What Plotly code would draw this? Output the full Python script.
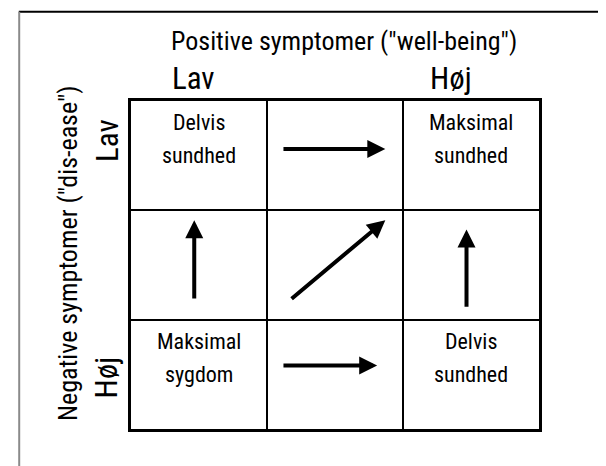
import plotly.graph_objects as go

FONT = "Roboto Condensed, Liberation Sans Narrow, Arial Narrow, Liberation Sans"

# 3x3 grid, columns = positive symptoms (Lav -> Høj), rows = negative symptoms (Lav -> Høj)
col_labels = ["Lav", "Høj"]
row_labels = ["Lav", "Høj"]
x_title = "Positive symptomer (″well-being″)"
y_title = "Negative symptomer (″dis-ease″)"

# cell texts: (column, row, line1, line2)
cell_col = [0, 2, 0, 2]
cell_row = [0, 0, 2, 2]
cell_line1 = ["Delvis", "Maksimal", "Maksimal", "Delvis"]
cell_line2 = ["sundhed", "sundhed", "sygdom", "sundhed"]

# arrows in grid units (start -> end)
arrow_x0 = [1.11, 0.465, 1.17, 2.467, 1.11]
arrow_y0 = [0.44, 1.82, 1.82, 1.895, 2.42]
arrow_x1 = [1.87, 0.465, 1.87, 2.467, 1.81]
arrow_y1 = [0.44, 1.09, 1.09, 1.175, 2.42]

fig = go.Figure()
fig.add_trace(go.Scatter(x=[0, 3], y=[0, 3], mode="markers",
                         marker=dict(opacity=0), hoverinfo="skip", showlegend=False))

annotations = []
for c, r, l1, l2 in zip(cell_col, cell_row, cell_line1, cell_line2):
    annotations.append(dict(x=c + 0.5, y=r + 0.2, xref="x", yref="y", text=l1,
                            xanchor="center", yanchor="middle", showarrow=False,
                            font=dict(family=FONT, size=22, color="black")))
    annotations.append(dict(x=c + 0.5, y=r + 0.5, xref="x", yref="y", text=l2,
                            xanchor="center", yanchor="middle", showarrow=False,
                            font=dict(family=FONT, size=22, color="black")))

for x0, y0, x1, y1 in zip(arrow_x0, arrow_y0, arrow_x1, arrow_y1):
    annotations.append(dict(x=x1, y=y1, ax=x0, ay=y0, xref="x", yref="y", axref="x", ayref="y",
                            text="", showarrow=True, arrowhead=2, arrowsize=0.9,
                            arrowwidth=4, arrowcolor="black"))

# headers
annotations.append(dict(x=0.522, y=1.183, xref="paper", yref="paper", text=x_title,
                        xanchor="center", yanchor="middle", showarrow=False,
                        font=dict(family=FONT, size=26, color="black")))
for i, lab in enumerate(col_labels):
    annotations.append(dict(x=[0.152, 0.784][i], y=1.07, xref="paper", yref="paper", text=lab,
                            xanchor="center", yanchor="middle", showarrow=False,
                            font=dict(family=FONT, size=31, color="black")))
for i, lab in enumerate(row_labels):
    annotations.append(dict(x=-0.059, y=[0.881, 0.157][i], xref="paper", yref="paper", text=lab,
                            xanchor="center", yanchor="middle", showarrow=False, textangle=-90,
                            font=dict(family=FONT, size=31, color="black")))
annotations.append(dict(x=-0.154, y=0.537, xref="paper", yref="paper", text=y_title,
                        xanchor="center", yanchor="middle", showarrow=False, textangle=-90,
                        font=dict(family=FONT, size=26, color="black")))

fig.update_layout(
    width=606, height=466,
    margin=dict(l=123, r=75, t=93, b=45),
    paper_bgcolor="white", plot_bgcolor="white",
    showlegend=False,
    annotations=annotations,
    xaxis=dict(range=[0, 3], tickvals=[1, 2], showticklabels=False, ticks="",
               showgrid=True, gridcolor="black", gridwidth=2, zeroline=False,
               showline=True, mirror=True, linecolor="black", linewidth=3, fixedrange=True),
    yaxis=dict(range=[3, 0], tickvals=[1, 2], showticklabels=False, ticks="",
               showgrid=True, gridcolor="black", gridwidth=2, zeroline=False,
               showline=True, mirror=True, linecolor="black", linewidth=3, fixedrange=True),
    shapes=[
        # page frame
        dict(type="line", xref="paper", yref="paper", x0=-0.275, x1=1.2, y0=1.272, y1=1.272,
             line=dict(color="black", width=2)),
        dict(type="line", xref="paper", yref="paper", x0=-0.274, x1=-0.274, y0=1.272, y1=-0.15,
             line=dict(color="#8a8a8a", width=2)),
        # faint watermark in the corner
        dict(type="circle", xref="paper", yref="paper", x0=1.155, x1=1.31, y0=-0.24, y1=-0.04,
             fillcolor="#e2e2e2", line=dict(width=0), layer="above"),
    ],
)

fig.write_html("out.html")
